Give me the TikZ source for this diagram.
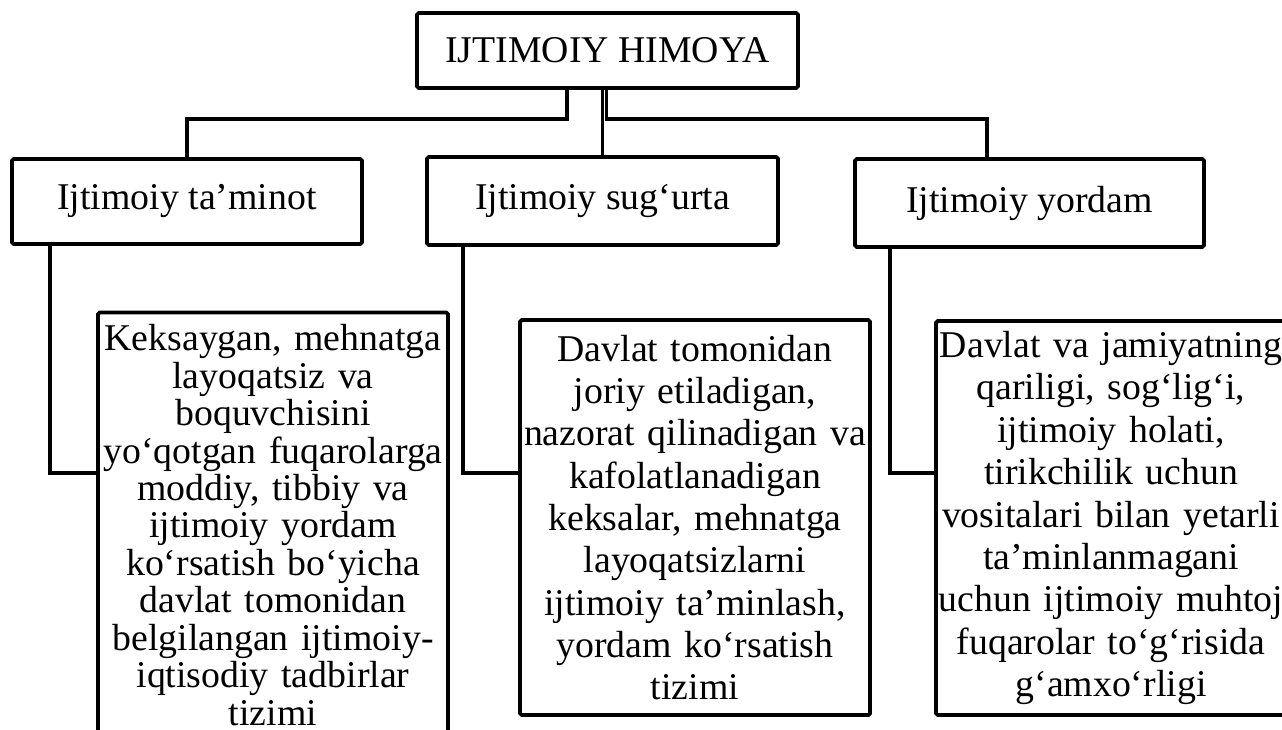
\documentclass[tikz,border=0pt]{standalone}
\usepackage{fontspec}
\setmainfont{Liberation Serif}
\usepackage{xcolor}
\usepackage{tikz}
\usetikzlibrary{positioning, calc}
\definecolor{inkdark}{HTML}{000000}
\tikzset{
  headbox/.style={draw=inkdark, line width=2.2pt, rounded corners=1pt, text=inkdark,
                  font=\fontsize{21.5}{24}\selectfont, inner sep=0pt, align=center},
  descbox/.style={draw=inkdark, line width=2.2pt, rounded corners=1pt, text=inkdark,
                  inner sep=0pt, text width=7.0cm, minimum width=7.0cm, align=center},
  link/.style={draw=inkdark, line width=2.2pt},
}

\begin{document}
\begin{tikzpicture}[x=1cm, y=1cm]
  \useasboundingbox (0,0) rectangle (25.64,-14.58);
  \clip (0,0) rectangle (25.64,-14.58);
  \node[headbox, minimum width=7.62cm, minimum height=1.5cm] (hTop) at (12.15,-1.01) {IJTIMOIY HIMOYA};
  \node[headbox, minimum width=7.0cm, minimum height=1.7cm] (hTa) at (3.74,-4.03) {Ijtimoiy ta’minot};
  \node[headbox, minimum width=7.02cm, minimum height=1.76cm] (hSu) at (12.05,-4.02) {Ijtimoiy sug‘urta};
  \node[headbox, minimum width=6.98cm, minimum height=1.76cm] (hYo) at (20.59,-4.06) {Ijtimoiy yordam};
  \node[descbox, font=\fontsize{21.5}{21.3}\selectfont, minimum height=8.5cm] (dTa) at (5.46,-10.5)
    {Keksaygan, mehnatga\\layoqatsiz va\\boquvchisini\\yo‘qotgan fuqarolarga\\moddiy, tibbiy va\\ijtimoiy yordam\\ko‘rsatish bo‘yicha\\davlat tomonidan\\belgilangan ijtimoiy-\\iqtisodiy tadbirlar\\tizimi};
  \node[descbox, font=\fontsize{21.5}{24.1}\selectfont, minimum height=7.9cm] (dSu) at (13.9,-10.35)
    {Davlat tomonidan\\joriy etiladigan,\\nazorat qilinadigan va\\kafolatlanadigan\\keksalar, mehnatga\\layoqatsizlarni\\ijtimoiy ta’minlash,\\yordam ko‘rsatish\\tizimi};
  \node[descbox, font=\fontsize{21.5}{24.1}\selectfont, minimum height=7.88cm] (dYo) at (22.22,-10.36)
    {Davlat va jamiyatning\\qariligi, sog‘lig‘i,\\ijtimoiy holati,\\tirikchilik uchun\\vositalari bilan yetarli\\ta’minlanmagani\\uchun ijtimoiy muhtoj\\fuqarolar to‘g‘risida\\g‘amxo‘rligi};
  % branches from the top box
  \coordinate (jL) at (11.34,-2.38);
  \coordinate (jR) at (12.13,-2.38);
  \coordinate (jYo) at (19.74,-2.38);
  \draw[link] (hTop.south -| jL) -- (jL) -| (hTa.north);
  \draw[link] (hTop.south -| hSu.north) -- (hSu.north);
  \draw[link] (hTop.south -| jR) -- (jR) -- (jYo) -- (hYo.north -| jYo);
  % down to the descriptions
  \foreach \h/\d/\x in {hTa/dTa/1.0, hSu/dSu/9.26, hYo/dYo/17.8}
    { \coordinate (k\h) at (\x,-9.46); \draw[link] (\h.south -| k\h) -- (k\h) -- (k\h -| \d.west); }
\end{tikzpicture}
\end{document}
